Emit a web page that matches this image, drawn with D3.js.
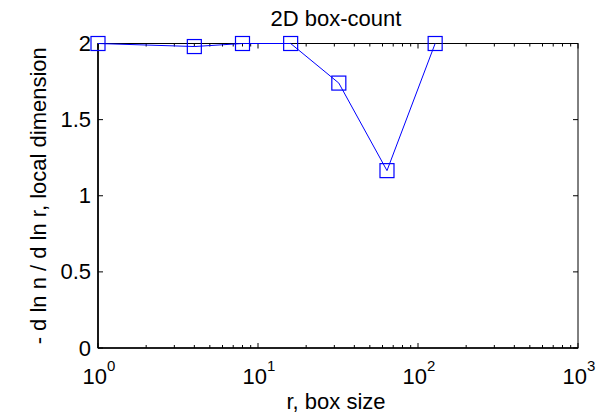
<!DOCTYPE html>
<html>
<head>
<meta charset="utf-8">
<script src="https://cdn.jsdelivr.net/npm/d3@7"></script>
<style>
  body { margin: 0; background: #fff; }
  text { font-family: "Liberation Sans", Arial, sans-serif; fill: #000; }
</style>
</head>
<body>
<div id="chart"></div>
<script>
//data
var boxSizes = [1, 4, 8, 16, 32, 64, 128];
var localDim = [2, 1.98, 2, 2, 1.74, 1.165, 2];
var yTicks = [0, 0.5, 1, 1.5, 2];
var xDecades = [0, 1, 2, 3];

var svgWidth = 602;
var svgHeight = 417;
var margin = { top: 43.5, right: 24, bottom: 69, left: 98 };
var chartWidth = svgWidth - margin.left - margin.right;
var chartHeight = svgHeight - margin.top - margin.bottom;

var svg = d3.select('#chart').append('svg')
  .attr('width', svgWidth)
  .attr('height', svgHeight);

var g = svg.append('g')
  .attr('transform', `translate(${margin.left}, ${margin.top})`);

var x = d3.scaleLog().domain([1, 1000]).range([0, chartWidth]);
var y = d3.scaleLinear().domain([0, 2]).range([chartHeight, 0]);

//minor ticks on log axis (top and bottom, inward)
var minor = [];
for (var d = 0; d < 3; d++) {
  for (var k = 2; k <= 9; k++) minor.push(k * Math.pow(10, d));
}
g.selectAll('.minorB').data(minor).enter().append('line')
  .attr('x1', v => x(v)).attr('x2', v => x(v))
  .attr('y1', chartHeight).attr('y2', chartHeight - 3)
  .attr('stroke', '#000').attr('stroke-width', 1);
g.selectAll('.minorT').data(minor).enter().append('line')
  .attr('x1', v => x(v)).attr('x2', v => x(v))
  .attr('y1', 0).attr('y2', 3)
  .attr('stroke', '#000').attr('stroke-width', 1);

//major x ticks
var majors = xDecades.map(e => Math.pow(10, e));
g.selectAll('.majB').data(majors).enter().append('line')
  .attr('x1', v => x(v)).attr('x2', v => x(v))
  .attr('y1', chartHeight).attr('y2', chartHeight - 5)
  .attr('stroke', '#000');
g.selectAll('.majT').data(majors).enter().append('line')
  .attr('x1', v => x(v)).attr('x2', v => x(v))
  .attr('y1', 0).attr('y2', 5)
  .attr('stroke', '#000');

//y ticks left and right
g.selectAll('.yl').data(yTicks).enter().append('line')
  .attr('x1', 0).attr('x2', 5)
  .attr('y1', v => y(v)).attr('y2', v => y(v))
  .attr('stroke', '#000');
g.selectAll('.yr').data(yTicks).enter().append('line')
  .attr('x1', chartWidth).attr('x2', chartWidth - 5)
  .attr('y1', v => y(v)).attr('y2', v => y(v))
  .attr('stroke', '#000');

//box
g.append('rect')
  .attr('x', 0).attr('y', 0)
  .attr('width', chartWidth).attr('height', chartHeight)
  .attr('fill', 'none').attr('stroke', '#000').attr('stroke-width', 1);
g.append('line').attr('x1', 0).attr('x2', 0).attr('y1', 0).attr('y2', chartHeight)
  .attr('stroke', '#000').attr('stroke-width', 1.6);
g.append('line').attr('x1', 0).attr('x2', chartWidth).attr('y1', chartHeight).attr('y2', chartHeight)
  .attr('stroke', '#000').attr('stroke-width', 1.6);

//y tick labels
g.selectAll('.ylab').data(yTicks).enter().append('text')
  .attr('x', -7).attr('y', v => y(v) + 7.5)
  .attr('text-anchor', 'end')
  .style('font-size', '22px')
  .text(v => d3.format('')(v));

//x tick labels 10^n
var xl = g.selectAll('.xlab').data(xDecades).enter().append('text')
  .attr('x', e => x(Math.pow(10, e)) + 1)
  .attr('y', chartHeight + 35.5)
  .attr('text-anchor', 'middle')
  .style('font-size', '22px');
xl.append('tspan').text('10');
xl.append('tspan').attr('dy', -13).style('font-size', '15px').text(e => e);

//line and markers
var pts = boxSizes.map((r, i) => ({ r: r, v: localDim[i] }));
var line = d3.line().x(p => x(p.r)).y(p => y(p.v));
g.append('path').datum(pts)
  .attr('d', line)
  .attr('fill', 'none')
  .attr('stroke', '#0000ff')
  .attr('stroke-width', 1);
g.selectAll('.mk').data(pts).enter().append('rect')
  .attr('x', p => x(p.r) - 7).attr('y', p => y(p.v) - 7)
  .attr('width', 14).attr('height', 14)
  .attr('fill', 'none')
  .attr('stroke', '#0000ff')
  .attr('stroke-width', 1.2);

//title and axis labels
svg.append('text')
  .attr('x', 336).attr('y', 26)
  .attr('text-anchor', 'middle')
  .style('font-size', '22px')
  .text('2D box-count');
svg.append('text')
  .attr('x', 336).attr('y', 409)
  .attr('text-anchor', 'middle')
  .style('font-size', '22px')
  .text('r, box size');
svg.append('text')
  .attr('transform', `translate(46, ${margin.top + chartHeight / 2}) rotate(-90)`)
  .attr('text-anchor', 'middle')
  .style('font-size', '22px')
  .text('- d ln n / d ln r, local dimension');
</script>
</body>
</html>
